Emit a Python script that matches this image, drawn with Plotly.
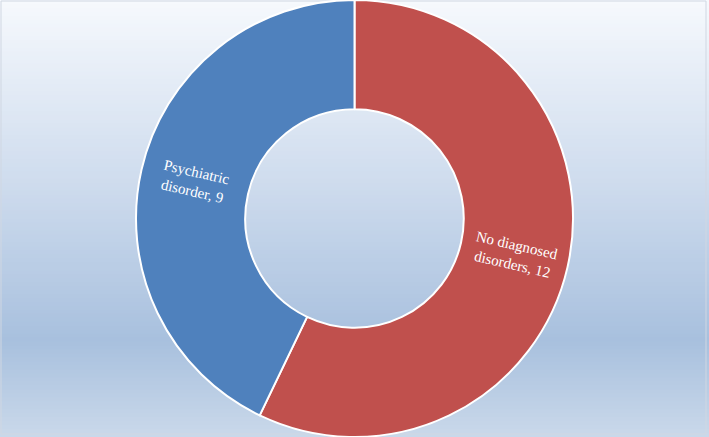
import math
import plotly.graph_objects as go

labels = ["No diagnosed<br>disorders", "Psychiatric<br>disorder"]
values = [12, 9]
colors = ["#C0504D", "#4F81BD"]

W, H = 709, 437
HOLE = 0.5

# background gradient stops (fraction from top, rgb)
stops = [(0.0, (246, 249, 253)), (0.40, (208, 221, 238)), (0.78, (168, 192, 222)), (1.0, (202, 216, 234))]

def grad(t):
    for (t0, c0), (t1, c1) in zip(stops[:-1], stops[1:]):
        if t0 <= t <= t1:
            f = (t - t0) / (t1 - t0) if t1 > t0 else 0
            return tuple(round(a + (b - a) * f) for a, b in zip(c0, c1))
    return stops[-1][1]

shapes = []
N = 110
for i in range(N):
    t = (i + 0.5) / N
    r, g, b = grad(t)
    shapes.append(dict(type="rect", xref="paper", yref="paper", layer="below",
                       x0=0, x1=1, y0=1 - i / N, y1=1 - (i + 1) / N - 0.004,
                       line=dict(width=0), fillcolor=f"rgb({r},{g},{b})"))
# frame border
shapes.append(dict(type="rect", xref="paper", yref="paper", layer="below",
                   x0=1 / W, x1=(W - 3) / W, y0=3 / H, y1=1 - 1 / H,
                   line=dict(width=1, color="#D0D7E2"), fillcolor="rgba(0,0,0,0)"))

# data labels placed at slice mid-angles, rotated radially (as in the original)
total = sum(values)
R = min(W, H) / 2
rmid = R * (1 + HOLE) / 2
annotations = []
cum = 0
for lab, v in zip(labels, values):
    theta = 2 * math.pi * (cum + v / 2) / total  # clockwise from 12 o'clock
    cum += v
    deg = math.degrees(theta)
    ang = deg - 90 if math.sin(theta) >= 0 else deg - 270
    annotations.append(dict(
        x=0.5 + rmid * math.sin(theta) / W, y=0.5 + rmid * math.cos(theta) / H,
        xref="paper", yref="paper", showarrow=False,
        xanchor="center", yanchor="middle",
        text=f"{lab}, {v}", textangle=ang,
        font=dict(family="Liberation Serif, serif", size=15, color="white")))

fig = go.Figure(go.Pie(
    labels=labels, values=values, sort=False, direction="clockwise", rotation=0,
    hole=HOLE,
    marker=dict(colors=colors, line=dict(color="white", width=2)),
    textinfo="none", hoverinfo="label+value",
    showlegend=False,
    domain=dict(x=[0, 1], y=[0, 1]),
))
fig.update_layout(width=W, height=H, margin=dict(l=0, r=0, t=0, b=0),
                  paper_bgcolor="white", plot_bgcolor="white",
                  shapes=shapes, annotations=annotations)
fig.write_html("out.html", config={"displayModeBar": False},
               post_script="document.body.style.margin='0';")
